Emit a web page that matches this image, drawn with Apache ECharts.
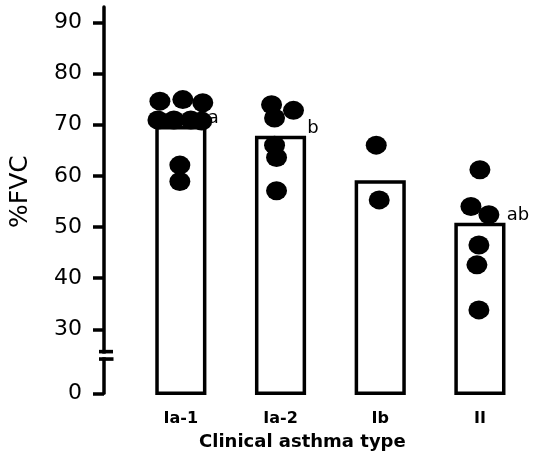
<!DOCTYPE html>
<html>
<head>
<meta charset="utf-8">
<script src="https://cdn.jsdelivr.net/npm/echarts@6/dist/echarts.min.js"></script>
<style>
html,body{margin:0;padding:0;background:#fff;}
#chart{width:535px;height:460px;}
</style>
</head>
<body>
<div id="chart"></div>
<script>
// ---- data ----
const categories = ['Ia-1', 'Ia-2', 'Ib', 'II'];
const meanFVC = [69.4, 67.5, 58.8, 50.5];
const sigLetters = ['a', 'b', '', 'ab'];

const valuesIa1 = [74.6, 74.9, 74.3, 70.9, 70.9, 70.9, 70.7, 62.1, 58.9];
const jitterIa1 = [-0.21, 0.02, 0.22, -0.23, -0.07, 0.10, 0.21, -0.01, -0.01];
const valuesIa2 = [73.9, 72.8, 71.3, 66.0, 63.6, 57.1];
const jitterIa2 = [-0.09, 0.13, -0.06, -0.06, -0.04, -0.04];
const valuesIb = [66.0, 55.3];
const jitterIb = [-0.04, -0.01];
const valuesII = [61.2, 54.0, 52.4, 46.5, 42.6, 33.8];
const jitterII = [0.0, -0.09, 0.09, -0.01, -0.03, -0.01];

// broken axis: the bottom value stands for 0
const yTickValues = [17.5, 30, 40, 50, 60, 70, 80, 90];
const yTickLabels = ['0', '30', '40', '50', '60', '70', '80', '90'];
const yMin = 17.5;
const yMax = 93;
const breakValue = 24.9;

// ---- build ----
const groupValues = [valuesIa1, valuesIa2, valuesIb, valuesII];
const groupJitter = [jitterIa1, jitterIa2, jitterIb, jitterII];
const dots = [];
groupValues.forEach((vals, i) => {
  vals.forEach((v, k) => dots.push([i + groupJitter[i][k], v]));
});

const chart = echarts.init(document.getElementById('chart'), null, {renderer: 'canvas'});

const option = {
  backgroundColor: '#fff',
  animation: false,
  grid: {left: 127.75, right: 5.25, top: 7, bottom: 66.7, containLabel: false},
  xAxis: [
    {
      type: 'category',
      data: categories,
      axisLine: {show: false, onZero: false},
      axisTick: {show: false},
      axisLabel: {
        margin: 18,
        color: '#000',
        fontFamily: 'DejaVu Sans',
        fontWeight: 'bold',
        fontSize: 16
      },
      name: 'Clinical asthma type',
      nameLocation: 'middle',
      nameGap: 40,
      nameTextStyle: {
        color: '#000',
        fontFamily: 'DejaVu Sans',
        fontWeight: 'bold',
        fontSize: 18,
        padding: [0, 56, 0, 0]
      },
      splitLine: {show: false}
    },
    {
      type: 'value',
      min: -0.5,
      max: 3.5,
      show: false,
      axisLine: {onZero: false},
      splitLine: {show: false}
    }
  ],
  yAxis: {
    type: 'value',
    min: yMin,
    max: yMax,
    offset: 27,
    axisLine: {show: true, onZero: false, lineStyle: {color: '#000', width: 3.5}},
    axisTick: {show: true, length: 11, lineStyle: {color: '#000', width: 3.5}, customValues: yTickValues},
    axisLabel: {
      margin: 22,
      color: '#000',
      fontFamily: 'DejaVu Sans',
      fontSize: 22,
      customValues: yTickValues,
      formatter: v => {
        const idx = yTickValues.findIndex(t => Math.abs(t - v) < 1e-6);
        return idx >= 0 ? yTickLabels[idx] : '';
      }
    },
    splitLine: {show: false},
    name: '%FVC',
    nameLocation: 'middle',
    nameGap: 71,
    nameRotate: 90,
    nameTextStyle: {
      color: '#000',
      fontFamily: 'DejaVu Sans',
      fontSize: 25,
      padding: [0, 0, 0, 17]
    }
  },
  series: [
    {
      type: 'custom',
      xAxisIndex: 0,
      yAxisIndex: 0,
      data: meanFVC.map((v, i) => [i, v, sigLetters[i]]),
      encode: {x: 0, y: 1},
      renderItem: (params, api) => {
        const i = api.value(0);
        const top = api.coord([i, api.value(1)]);
        const base = api.coord([i, yMin]);
        const w = api.size([1, 0])[0] * 0.478;
        const letter = sigLetters[params.dataIndex];
        const children = [{
          type: 'rect',
          shape: {x: top[0] - w / 2, y: top[1], width: w, height: base[1] - top[1]},
          style: {fill: '#fff', stroke: '#000', lineWidth: 3.5}
        }];
        if (letter) {
          children.push({
            type: 'text',
            z2: 10,
            style: {
              text: letter,
              x: top[0] + w / 2 + 3,
              y: top[1] - 9,
              verticalAlign: 'middle',
              align: 'left',
              fill: '#000',
              font: '18px "DejaVu Sans"'
            }
          });
        }
        return {type: 'group', children: children};
      },
      z: 1
    },
    {
      type: 'scatter',
      xAxisIndex: 1,
      yAxisIndex: 0,
      data: dots,
      symbol: 'circle',
      symbolSize: [21, 19],
      itemStyle: {color: '#000', opacity: 1},
      z: 5
    }
  ]
};

chart.setOption(option);

// axis-break marks on the y axis line
const axisX = chart.convertToPixel({xAxisIndex: 1}, -0.5) - 27;
const by = chart.convertToPixel({yAxisIndex: 0}, breakValue);
chart.setOption({
  graphic: [
    {type: 'rect', shape: {x: axisX - 4, y: by - 1.8, width: 8, height: 3.6}, style: {fill: '#fff'}, z: 100},
    {type: 'rect', shape: {x: axisX - 5, y: by - 5.6, width: 14, height: 3.6}, style: {fill: '#000'}, z: 101},
    {type: 'rect', shape: {x: axisX - 5, y: by + 1.8, width: 14.5, height: 3.6}, style: {fill: '#000'}, z: 101}
  ]
});
</script>
</body>
</html>
